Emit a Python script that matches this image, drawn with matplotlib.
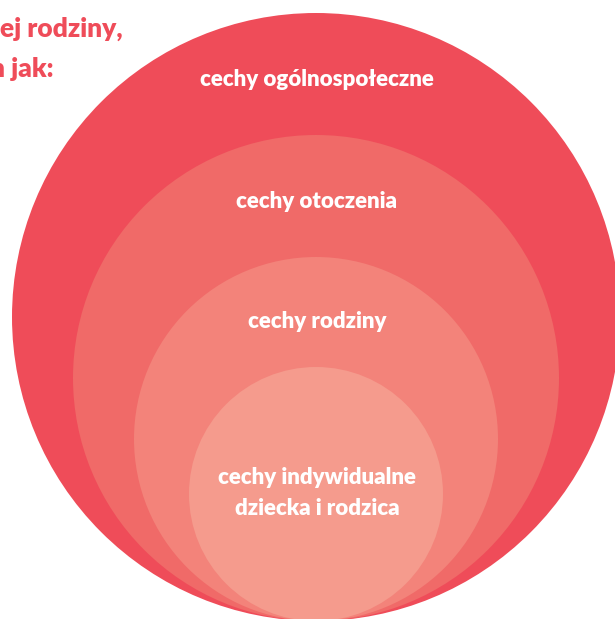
import matplotlib.pyplot as plt
from matplotlib.patches import Circle

# nested levels, outermost first
levels = ["cechy ogólnospołeczne", "cechy otoczenia", "cechy rodziny",
          "cechy indywidualne\ndziecka i rodzica"]
radii = [304, 243, 182, 127]
colors = ['#EF4C59', '#F06A68', '#F3837A', '#F59B8D']
label_y = [79, 201, 321, 493]

# cut-off heading text at the top left
heading = ["ej rodziny,", "n jak:"]

W, H = 615, 619
cx, bottom = 316, 621

fig = plt.figure(figsize=(W / 100, H / 100), dpi=100)
ax = fig.add_axes([0, 0, 1, 1])
ax.set_xlim(0, W)
ax.set_ylim(H, 0)
ax.set_aspect('equal')
ax.axis('off')

for name, r, color, ty in zip(levels, radii, colors, label_y):
    ax.add_patch(Circle((cx, bottom - r), r, facecolor=color, edgecolor='none'))
    ax.text(cx + 1, ty, name, ha='center', va='center', color='white',
            fontsize=16, fontweight='heavy', family='Lato', linespacing=1.6)

# the heading is cut at the left edge, as in the source image
ax.text(123, 29, heading[0], ha='right', va='center', color='#EF4C59',
        fontsize=19, fontweight='heavy', family='Lato')
ax.text(53, 69, heading[1], ha='right', va='center', color='#EF4C59',
        fontsize=19, fontweight='heavy', family='Lato')

fig.savefig("out.png", dpi=100)
plt.close()
